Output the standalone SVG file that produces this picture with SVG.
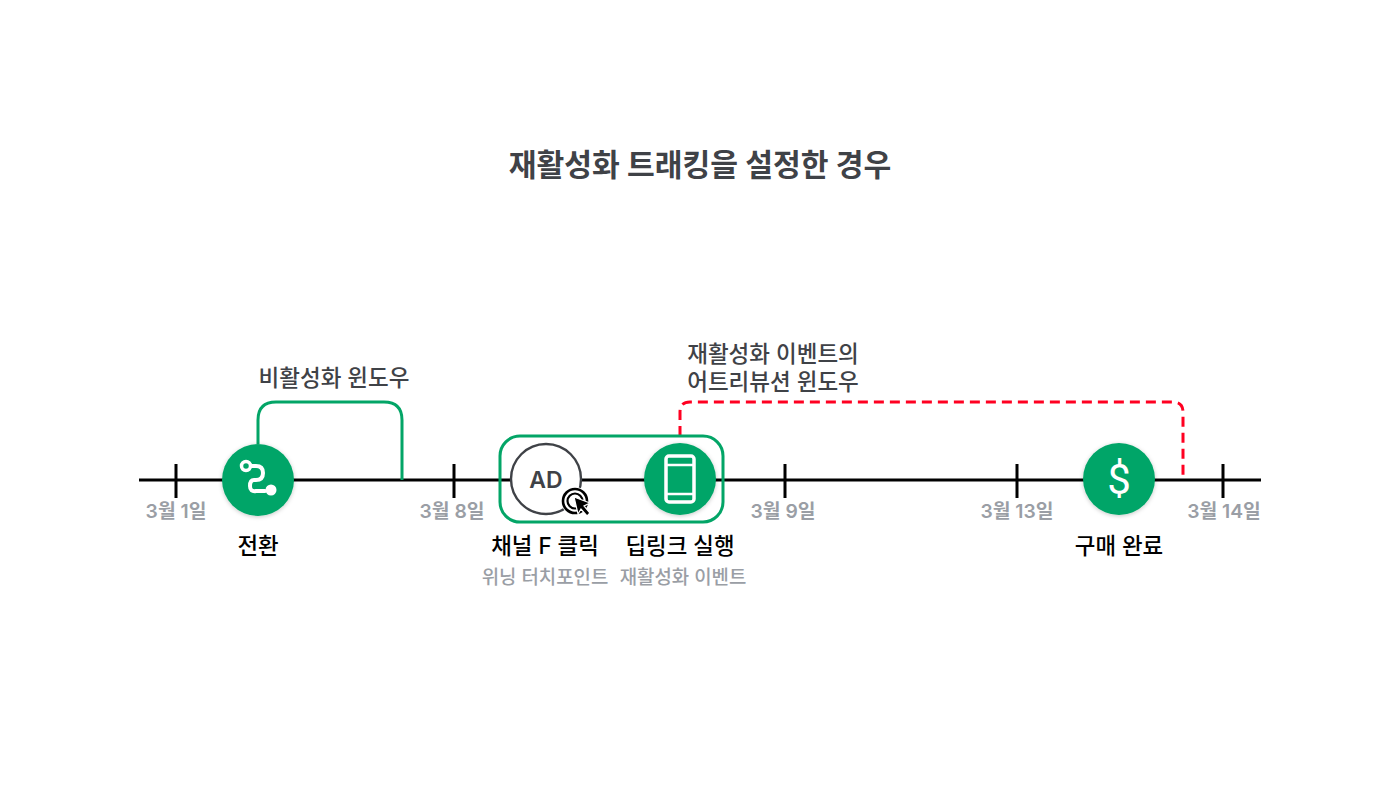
<svg xmlns="http://www.w3.org/2000/svg" width="1400" height="800" viewBox="0 0 1400 800">
<style>
text{font-family:"Inter","Noto Sans CJK KR",sans-serif;text-anchor:middle}
.t{font-size:30.2px;font-weight:700;fill:#3f4247}
.h{font-size:22.5px;font-weight:500;fill:#3f4247}
.d{font-size:19.3px;font-weight:600;fill:#9a9ea5}
.n{font-size:22.4px;font-weight:500;fill:#000}
.s{font-size:18.9px;font-weight:500;fill:#9a9ea5}
.axis{stroke:#000;stroke-width:3;fill:none}
.g{stroke:#03a567;stroke-width:3;fill:none}
.r{stroke:#ff0021;stroke-width:3;fill:none;stroke-dasharray:10 6}
.c{fill:#03a567}
.w{stroke:#fff;fill:none;stroke-linecap:round;stroke-linejoin:round}
</style>
<defs><filter id="sh" x="-20%" y="-20%" width="140%" height="140%"><feDropShadow dx="0" dy="1" stdDeviation="2" flood-color="#000" flood-opacity=".22"/></filter></defs>
<rect width="1400" height="800" fill="#fff"/>
<text class="t" x="700" y="176">재활성화 트래킹을 설정한 경우</text>
<g id="connectors">
<path class="axis" d="M139 480H1261M176 464V498M454 464V498M785 464V498M1017 464V498M1223 464V498"/>
<path class="g" d="M258 444V420Q258 402 276 402H384Q402 402 402 420V480"/>
<path class="r" d="M680 436V412Q680 402 690 402H1173Q1183 402 1183 412V480"/>
<rect class="g" x="500" y="436" width="223" height="86" rx="20"/>
</g>
<g id="labels">
<text class="h" x="334" y="386">비활성화 윈도우</text>
<text class="h" x="773" y="362">재활성화 이벤트의</text>
<text class="h" x="773" y="390">어트리뷰션 윈도우</text>
<text class="d" x="176" y="518">3월 1일</text>
<text class="d" x="452" y="518">3월 8일</text>
<text class="d" x="783" y="518">3월 9일</text>
<text class="d" x="1017" y="518">3월 13일</text>
<text class="d" x="1224" y="518">3월 14일</text>
</g>
<g id="node-conversion">
<circle class="c" cx="258" cy="480" r="36" filter="url(#sh)"/>
<circle class="w" stroke-width="3.5" cx="246" cy="466" r="4.5"/>
<path class="w" stroke-width="4" d="M251 466H256Q263 466 263 473T256 480H254Q250 480 250 486T256 491H265"/>
<circle cx="271" cy="490" r="5.5" fill="#fff"/>
<text class="n" x="258" y="554">전환</text>
</g>
<g id="node-click">
<circle cx="546" cy="479" r="35" fill="#fff" stroke="#3f4247" stroke-width="2.4"/>
<text x="546" y="488" font-size="23" font-weight="600" fill="#3f4247">AD</text>
<circle cx="575" cy="501" r="14" fill="#fff"/>
<circle cx="575" cy="501" r="12" fill="none" stroke="#000" stroke-width="2.6"/>
<circle cx="575" cy="501" r="7.5" fill="none" stroke="#000" stroke-width="2.2"/>
<path d="M574 497L590 503L584 506L590 513L587 516L581 509L578 514Z" fill="#000" stroke="#fff" stroke-width="1.2"/>
<text class="n" x="545" y="554">채널 F 클릭</text>
<text class="s" x="545" y="584">위닝 터치포인트</text>
</g>
<g id="node-deeplink">
<circle class="c" cx="680" cy="479" r="36" filter="url(#sh)"/>
<rect class="w" stroke-width="3.5" x="666" y="456" width="28" height="46" rx="3"/>
<path class="w" stroke-width="2.5" stroke-linecap="butt" d="M667 465H693M667 494H693"/>
<text class="n" x="680" y="554">딥링크 실행</text>
<text class="s" x="683" y="584">재활성화 이벤트</text>
</g>
<g id="node-purchase">
<circle class="c" cx="1119" cy="479" r="36" filter="url(#sh)"/>
<text x="1119" y="494" font-size="42" font-weight="400" fill="#fff" style="font-family:Roboto,sans-serif">$</text>
<text class="n" x="1119" y="554">구매 완료</text>
</g>
</svg>
